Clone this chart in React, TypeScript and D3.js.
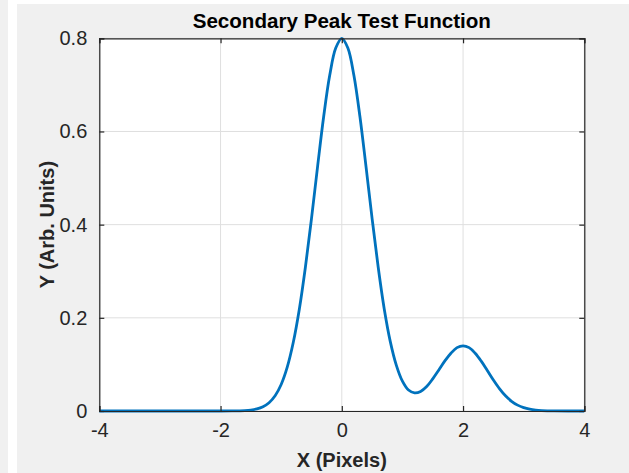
import React, { useEffect, useRef } from 'react';
import * as d3 from 'd3';

// values
const xValues = [
  -4, -3, -2, -1.8, -1.7, -1.6, -1.5, -1.4, -1.3, -1.2, -1.1, -1.0, -0.9, -0.8, -0.7, -0.6, -0.5, -0.4, -0.3, -0.2, -0.1,
  0, 0.1, 0.2, 0.3, 0.4, 0.5, 0.6, 0.7, 0.8, 0.9, 1.0, 1.1, 1.2, 1.3, 1.4, 1.5, 1.6, 1.7, 1.8, 1.9,
  2.0, 2.1, 2.2, 2.3, 2.4, 2.5, 2.6, 2.7, 2.8, 2.9, 3.0, 3.1, 3.2, 3.3, 3.4, 3.5, 4,
];
const yValues = [
  0, 0, 0, 0.0001, 0.0004, 0.0009, 0.0021, 0.0045, 0.0092, 0.0178, 0.0327, 0.057, 0.0942, 0.1475, 0.219, 0.309, 0.413, 0.524, 0.631, 0.72, 0.779,
  0.8, 0.779, 0.72, 0.631, 0.524, 0.413, 0.309, 0.219, 0.149, 0.098, 0.064, 0.045, 0.039, 0.042, 0.0525, 0.069, 0.088, 0.1075, 0.124, 0.136,
  0.14, 0.136, 0.124, 0.107, 0.087, 0.0666, 0.048, 0.0326, 0.0209, 0.0126, 0.0072, 0.0038, 0.0019, 0.0009, 0.0004, 0.0001, 0,
];
const xTicks = [-4, -2, 0, 2, 4];
const yTicks = [0, 0.2, 0.4, 0.6, 0.8];

const App = () => {
  const chartRef = useRef<HTMLDivElement>(null);

  useEffect(() => {
    const width = 629;
    const height = 473;
    const margin = { top: 38.3, right: 44.7, bottom: 62, left: 99.3 };
    const chartWidth = width - margin.left - margin.right;
    const chartHeight = height - margin.top - margin.bottom;
    const font = '"Liberation Sans", Arial, Helvetica, sans-serif';
    const axisColor = '#262626';

    const svg = d3.select(chartRef.current)
      .append('svg')
      .attr('width', width)
      .attr('height', height)
      .style('display', 'block');

    // figure background
    svg.append('rect').attr('width', width).attr('height', height).attr('fill', '#ffffff');
    svg.append('rect').attr('width', 8).attr('height', height).attr('fill', '#f0f0f0');
    svg.append('rect').attr('x', 17).attr('y', 4).attr('width', width - 17).attr('height', height - 4).attr('fill', '#f0f0f0');

    const xScale = d3.scaleLinear().domain([-4, 4]).range([0, chartWidth]);
    const yScale = d3.scaleLinear().domain([0, 0.8]).range([chartHeight, 0]);

    const chart = svg.append('g')
      .attr('transform', `translate(${margin.left}, ${margin.top})`);

    chart.append('rect')
      .attr('width', chartWidth)
      .attr('height', chartHeight)
      .attr('fill', '#ffffff');

    // grid
    chart.selectAll('.vgrid')
      .data(xTicks)
      .enter()
      .append('line')
      .attr('x1', (d) => xScale(d))
      .attr('x2', (d) => xScale(d))
      .attr('y1', 0)
      .attr('y2', chartHeight)
      .attr('stroke', '#dfdfdf')
      .attr('stroke-width', 1);

    chart.selectAll('.hgrid')
      .data(yTicks)
      .enter()
      .append('line')
      .attr('x1', 0)
      .attr('x2', chartWidth)
      .attr('y1', (d) => yScale(d))
      .attr('y2', (d) => yScale(d))
      .attr('stroke', '#dfdfdf')
      .attr('stroke-width', 1);

    // curve
    const points = xValues.map((x, i) => [x, yValues[i]] as [number, number]);
    const line = d3.line<[number, number]>()
      .x((d) => xScale(d[0]))
      .y((d) => yScale(d[1]))
      .curve(d3.curveCatmullRom.alpha(0.5));

    chart.append('path')
      .datum(points)
      .attr('d', line)
      .attr('fill', 'none')
      .attr('stroke', '#0072BD')
      .attr('stroke-width', 2.8)
      .attr('stroke-linejoin', 'round');

    // axes (inside ticks, box on all sides)
    const tickLen = 5;
    chart.append('g')
      .attr('transform', `translate(0, ${chartHeight})`)
      .call(d3.axisBottom(xScale).tickValues(xTicks).tickSize(-tickLen).tickPadding(12).tickFormat((d) => String(d)));
    chart.append('g')
      .call(d3.axisTop(xScale).tickValues(xTicks).tickSize(-tickLen).tickFormat(() => ''));
    chart.append('g')
      .call(d3.axisLeft(yScale).tickValues(yTicks).tickSize(-tickLen).tickPadding(12).tickFormat((d) => (d === 0 ? '0' : (d as number).toFixed(1))));
    chart.append('g')
      .attr('transform', `translate(${chartWidth}, 0)`)
      .call(d3.axisRight(yScale).tickValues(yTicks).tickSize(-tickLen).tickFormat(() => ''));

    chart.selectAll('.domain').attr('stroke', axisColor).attr('stroke-width', 1.2);
    chart.selectAll('.tick line').attr('stroke', axisColor).attr('stroke-width', 1.2);
    chart.selectAll('.tick text')
      .attr('font-family', font)
      .attr('font-size', '20px')
      .attr('fill', '#262626');

    // titles
    svg.append('text')
      .attr('x', margin.left + chartWidth / 2)
      .attr('y', 28)
      .attr('text-anchor', 'middle')
      .attr('font-family', font)
      .attr('font-weight', 'bold')
      .attr('font-size', '20.6px')
      .attr('fill', '#000000')
      .text('Secondary Peak Test Function');

    svg.append('text')
      .attr('x', margin.left + chartWidth / 2)
      .attr('y', 467)
      .attr('text-anchor', 'middle')
      .attr('font-family', font)
      .attr('font-weight', 'bold')
      .attr('font-size', '20px')
      .attr('fill', '#262626')
      .text('X (Pixels)');

    svg.append('text')
      .attr('transform', `translate(53.5, ${margin.top + chartHeight / 2}) rotate(-90)`)
      .attr('text-anchor', 'middle')
      .attr('font-family', font)
      .attr('font-weight', 'bold')
      .attr('font-size', '20px')
      .attr('fill', '#262626')
      .text('Y (Arb. Units)');

    return () => {
      d3.select(chartRef.current).selectAll('svg').remove();
    };
  }, []);

  return <div ref={chartRef} style={{ position: 'absolute', left: 0, top: 0 }} />;
};

export default App;
